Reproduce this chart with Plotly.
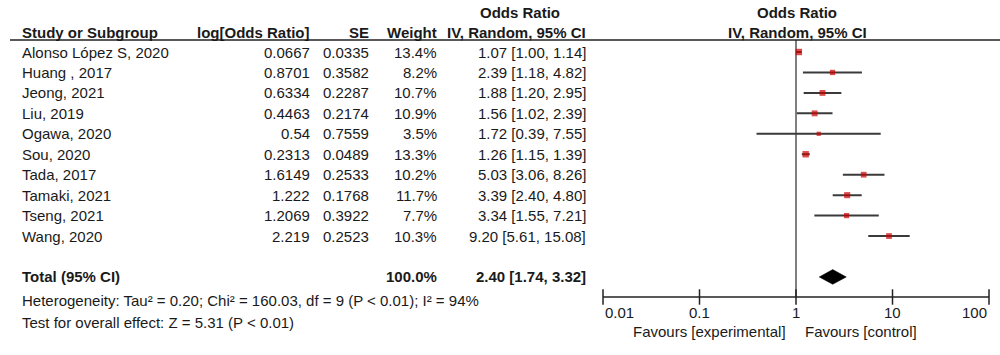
import math
import plotly.graph_objects as go

# ---------------- data ----------------
studies = ["Alonso López S, 2020", "Huang , 2017", "Jeong, 2021", "Liu, 2019", "Ogawa, 2020",
           "Sou, 2020", "Tada, 2017", "Tamaki, 2021", "Tseng, 2021", "Wang, 2020"]
log_or = [0.0667, 0.8701, 0.6334, 0.4463, 0.54, 0.2313, 1.6149, 1.222, 1.2069, 2.219]
se = [0.0335, 0.3582, 0.2287, 0.2174, 0.7559, 0.0489, 0.2533, 0.1768, 0.3922, 0.2523]
weight = [13.4, 8.2, 10.7, 10.9, 3.5, 13.3, 10.2, 11.7, 7.7, 10.3]
odds = [1.07, 2.39, 1.88, 1.56, 1.72, 1.26, 5.03, 3.39, 3.34, 9.20]
ci_low = [1.00, 1.18, 1.20, 1.02, 0.39, 1.15, 3.06, 2.40, 1.55, 5.61]
ci_high = [1.14, 4.82, 2.95, 2.39, 7.55, 1.39, 8.26, 4.80, 7.21, 15.08]

total_label = "Total (95% CI)"
total_weight = 100.0
total_or = 2.40
total_low = 1.74
total_high = 3.32
heterogeneity = "Heterogeneity: Tau² = 0.20; Chi² = 160.03, df = 9 (P < 0.01); I² = 94%"
overall = "Test for overall effect: Z = 5.31 (P < 0.01)"

tick_vals = [0.01, 0.1, 1, 10, 100]
tick_text = ["0.01", "0.1", "1", "10", "100"]
favours_left = "Favours [experimental]"
favours_right = "Favours [control]"

# ---------------- layout helpers ----------------
W, H = 1000, 355
ROW0_PX = 52.0
ROW_STEP = 20.45


def px2row(p):
    return (p - ROW0_PX) / ROW_STEP


def py(p):  # pixel -> paper y
    return 1 - p / H


def pxx(p):  # pixel -> paper x
    return p / W


FONT = "Arial, 'Liberation Sans', sans-serif"
FS = 15
TXT = "#1a1a1a"

COL_STUDY = 20
COL_LOG = 312
COL_SE = 371
COL_W = 439
COL_CI = 588
COL_CI_MID = 520

n = len(studies)
rows = list(range(n))
total_row = n + 1
axis_row = px2row(297)
header_row = px2row(40)

fig = go.Figure()

# vertical line of no effect
fig.add_trace(go.Scatter(x=[1, 1], y=[header_row, axis_row], mode="lines",
                         line=dict(color="#555555", width=1.5), hoverinfo="skip",
                         showlegend=False, cliponaxis=False))

# CI lines
for i in rows:
    fig.add_trace(go.Scatter(x=[ci_low[i], ci_high[i]], y=[i, i], mode="lines",
                             line=dict(color="#3a3a3a", width=2), showlegend=False,
                             hoverinfo="skip", cliponaxis=False))

# squares
fig.add_trace(go.Scatter(x=odds, y=rows, mode="markers",
                         marker=dict(symbol="square", color="#cc0000",
                                     size=[3.5 + 0.22 * w for w in weight], line=dict(width=0)),
                         showlegend=False, cliponaxis=False))

# diamond
hh = 0.36
fig.add_trace(go.Scatter(x=[total_low, total_or, total_high, total_or, total_low],
                         y=[total_row, total_row - hh, total_row, total_row + hh, total_row],
                         mode="lines", fill="toself", fillcolor="black",
                         line=dict(color="black", width=0.5), showlegend=False,
                         hoverinfo="skip", cliponaxis=False))

# x axis line and ticks
fig.add_trace(go.Scatter(x=[tick_vals[0], tick_vals[-1]], y=[axis_row, axis_row], mode="lines",
                         line=dict(color="#222222", width=1.5), showlegend=False,
                         hoverinfo="skip", cliponaxis=False))
fig.add_trace(go.Scatter(x=tick_vals, y=[axis_row] * len(tick_vals), mode="markers",
                         marker=dict(symbol="line-ns-open", size=11, color="#222222",
                                     line=dict(color="#222222", width=1.5)),
                         showlegend=False, hoverinfo="skip", cliponaxis=False))

ann = []


def text(x, y, s, anchor="left", bold=False, xref="paper", yref="paper"):
    ann.append(dict(x=x, y=y, xref=xref, yref=yref, text=f"<b>{s}</b>" if bold else s,
                    showarrow=False, xanchor=anchor, yanchor="middle",
                    font=dict(family=FONT, size=FS, color=TXT)))


# headers
text(pxx(COL_STUDY), py(33), "Study or Subgroup", "left", True)
text(pxx(COL_LOG), py(33), "log[Odds Ratio]", "right", True)
text(pxx(COL_SE), py(33), "SE", "right", True)
text(pxx(COL_W), py(33), "Weight", "right", True)
text(pxx(COL_CI_MID), py(13), "Odds Ratio", "center", True)
text(pxx(COL_CI), py(33), "IV, Random, 95% CI", "right", True)
text(0.797, py(13), "Odds Ratio", "center", True)
text(0.797, py(33), "IV, Random, 95% CI", "center", True)

# study rows
for i in rows:
    text(pxx(COL_STUDY), i, studies[i], "left", yref="y")
    text(pxx(COL_LOG), i, f"{log_or[i]}", "right", yref="y")
    text(pxx(COL_SE), i, f"{se[i]}", "right", yref="y")
    text(pxx(COL_W), i, f"{weight[i]:.1f}%", "right", yref="y")
    text(pxx(COL_CI), i, f"{odds[i]:.2f} [{ci_low[i]:.2f}, {ci_high[i]:.2f}]", "right", yref="y")

# total
text(pxx(COL_STUDY), total_row, total_label, "left", True, yref="y")
text(pxx(COL_W), total_row, f"{total_weight:.1f}%", "right", True, yref="y")
text(pxx(COL_CI), total_row, f"{total_or:.2f} [{total_low:.2f}, {total_high:.2f}]", "right", True, yref="y")
text(pxx(COL_STUDY), py(300), heterogeneity, "left")
text(pxx(COL_STUDY), py(322), overall, "left")

# tick labels
for k, (v, t) in enumerate(zip(tick_vals, tick_text)):
    anchor = "left" if k == 0 else ("right" if k == len(tick_vals) - 1 else "center")
    text(math.log10(v), py(312), t, anchor, xref="x")

text(pxx(788), py(331), favours_left, "right")
text(pxx(803), py(331), favours_right, "left")

# header rule
shapes = [dict(type="line", xref="paper", yref="paper", x0=0.010, x1=1.0, y0=py(40), y1=py(40),
               line=dict(color="#222222", width=1.5))]

xr = [-2.05, 2.05]
px_per_dec = (989 - 603) / 4
d0 = (603 - 0.05 * px_per_dec) / W
d1 = (989 + 0.05 * px_per_dec) / W

fig.update_layout(
    width=W, height=H, margin=dict(l=0, r=0, t=0, b=0),
    paper_bgcolor="white", plot_bgcolor="white",
    xaxis=dict(type="log", range=xr, domain=[d0, d1], visible=False, fixedrange=True),
    yaxis=dict(range=[px2row(H), px2row(0)], domain=[0, 1], visible=False, fixedrange=True),
    annotations=ann, shapes=shapes, showlegend=False,
)

fig.write_html("out.html", config={"displayModeBar": False},
               post_script="document.body.style.margin='0';document.body.style.overflow='hidden';")
